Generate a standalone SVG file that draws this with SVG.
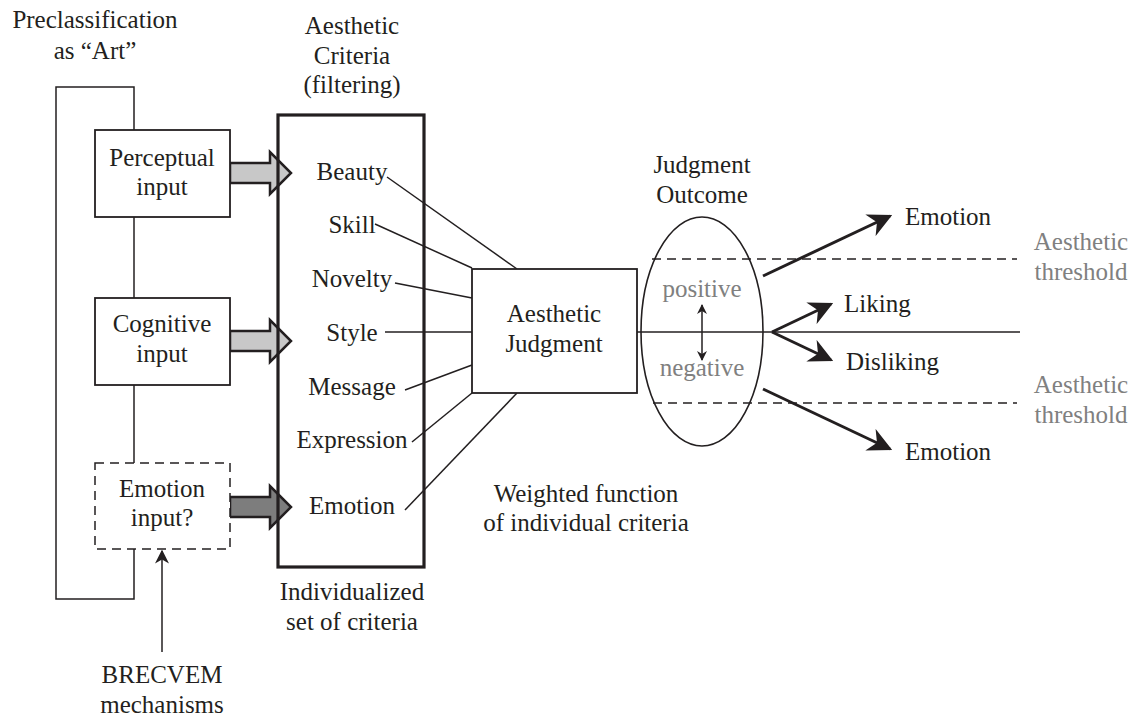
<svg xmlns="http://www.w3.org/2000/svg" width="1137" height="718" viewBox="0 0 1137 718">
<style>
text{font-family:"Liberation Serif","Noto Serif",Tinos,"Times New Roman",Times,"DejaVu Serif",Georgia,serif;font-size:25px;fill:#231f20}
.c{text-anchor:middle}
.g{fill:#808080}
.ln{stroke:#231f20;stroke-width:1.5;fill:none}
.box{stroke:#231f20;stroke-width:1.8;fill:#fff}
.dash{stroke:#231f20;stroke-width:1.5;stroke-dasharray:9 6;fill:none}
.blk{stroke:#231f20;stroke-width:2.5;stroke-linejoin:miter}
.thick{stroke:#231f20;stroke-width:3;fill:none}
</style>
<defs>
<marker id="ah" viewBox="0 0 10 10" refX="9" refY="5" markerWidth="12" markerHeight="10" markerUnits="userSpaceOnUse" orient="auto-start-reverse">
<path d="M0,0 L10,5 L0,10 L3,5 z" fill="#231f20"/>
</marker>
<marker id="ahb" viewBox="0 0 10 10" refX="9" refY="5" markerWidth="8" markerHeight="8" orient="auto">
<path d="M0,0 L10,5 L0,10 L3,5 z" fill="#231f20"/>
</marker>
<marker id="ahs" viewBox="0 0 10 10" refX="9" refY="5" markerWidth="14" markerHeight="14" markerUnits="userSpaceOnUse" orient="auto-start-reverse">
<path d="M0,0 L10,5 L0,10 L3,5 z" fill="#231f20"/>
</marker>
</defs>

<text class="c" x="95" y="28">Preclassification</text>
<text class="c" x="95" y="59">as “Art”</text>

<g id="connectors">
<path class="ln" d="M134,130 V87 H56 V599 H134 V549"/>
<line class="ln" x1="134" y1="217" x2="134" y2="298"/>
<line class="ln" x1="134" y1="385" x2="134" y2="463"/>
<line class="ln" x1="162" y1="652" x2="162" y2="551" marker-end="url(#ahs)"/>
<polygon class="blk" fill="#c8c8c8" points="230,163 270,163 270,152 291,173 270,194 270,183 230,183"/>
<polygon class="blk" fill="#c8c8c8" points="230,331 270,331 270,320 291,341 270,362 270,351 230,351"/>
<polygon class="blk" fill="#7d7d7d" points="230,497 270,497 270,486 291,507 270,528 270,517 230,517"/>
<line class="ln" x1="387" y1="177" x2="517" y2="269"/>
<line class="ln" x1="375" y1="224" x2="472" y2="268"/>
<line class="ln" x1="395" y1="283" x2="472" y2="298"/>
<line class="ln" x1="385" y1="332" x2="472" y2="332"/>
<line class="ln" x1="405" y1="390" x2="472" y2="365"/>
<line class="ln" x1="412" y1="442" x2="472" y2="393"/>
<line class="ln" x1="405" y1="510" x2="517" y2="393"/>
<line class="ln" x1="637" y1="332" x2="1020" y2="332"/>
<line class="dash" x1="652" y1="259" x2="1017" y2="259"/>
<line class="dash" x1="653" y1="403" x2="1017" y2="403"/>
<line class="ln" x1="702" y1="305" x2="702" y2="360" marker-start="url(#ah)" marker-end="url(#ah)"/>
<line class="thick" x1="763" y1="276" x2="890" y2="216" marker-end="url(#ahb)"/>
<line class="thick" x1="772" y1="332" x2="831" y2="304" marker-end="url(#ahb)"/>
<line class="thick" x1="772" y1="332" x2="831" y2="360" marker-end="url(#ahb)"/>
<line class="thick" x1="763" y1="389" x2="890" y2="449" marker-end="url(#ahb)"/>
</g>

<g id="perceptual">
<rect class="box" x="95" y="130" width="135" height="87"/>
<text class="c" x="162" y="166">Perceptual</text>
<text class="c" x="162" y="195">input</text>
</g>
<g id="cognitive">
<rect class="box" x="95" y="298" width="135" height="87"/>
<text class="c" x="162" y="332">Cognitive</text>
<text class="c" x="162" y="362">input</text>
</g>
<g id="emotion-input">
<rect x="95" y="463" width="135" height="86" fill="#fff" stroke="#231f20" stroke-width="1.5" stroke-dasharray="9 6"/>
<text class="c" x="162" y="497">Emotion</text>
<text class="c" x="162" y="526">input?</text>
</g>
<g id="brecvem">
<text class="c" x="162" y="683">BRECVEM</text>
<text class="c" x="162" y="713">mechanisms</text>
</g>

<g id="criteria">
<text class="c" x="352" y="34">Aesthetic</text>
<text class="c" x="352" y="64">Criteria</text>
<text class="c" x="352" y="93">(filtering)</text>
<rect x="278" y="115" width="146" height="452" fill="none" stroke="#231f20" stroke-width="3.2"/>
<text class="c" x="352" y="180">Beauty</text>
<text class="c" x="352" y="233">Skill</text>
<text class="c" x="352" y="287">Novelty</text>
<text class="c" x="352" y="341">Style</text>
<text class="c" x="352" y="395">Message</text>
<text class="c" x="352" y="448">Expression</text>
<text class="c" x="352" y="514">Emotion</text>
<text class="c" x="352" y="600">Individualized</text>
<text class="c" x="352" y="630">set of criteria</text>
</g>

<g id="judgment">
<rect class="box" x="472" y="269" width="165" height="124"/>
<text class="c" x="554" y="322">Aesthetic</text>
<text class="c" x="554" y="352">Judgment</text>
<text class="c" x="586" y="502">Weighted function</text>
<text class="c" x="586" y="531">of individual criteria</text>
</g>

<g id="outcome">
<text class="c" x="702" y="173">Judgment</text>
<text class="c" x="702" y="203">Outcome</text>
<ellipse cx="702" cy="331.5" rx="61" ry="114.5" fill="none" stroke="#231f20" stroke-width="1.6"/>
<text class="c g" x="702" y="297">positive</text>
<text class="c g" x="702" y="376">negative</text>
</g>

<g id="results">
<text x="905" y="225">Emotion</text>
<text x="844" y="312">Liking</text>
<text x="846" y="370">Disliking</text>
<text x="905" y="460">Emotion</text>
<text class="c g" x="1081" y="250">Aesthetic</text>
<text class="c g" x="1081" y="280">threshold</text>
<text class="c g" x="1081" y="393">Aesthetic</text>
<text class="c g" x="1081" y="423">threshold</text>
</g>
</svg>
